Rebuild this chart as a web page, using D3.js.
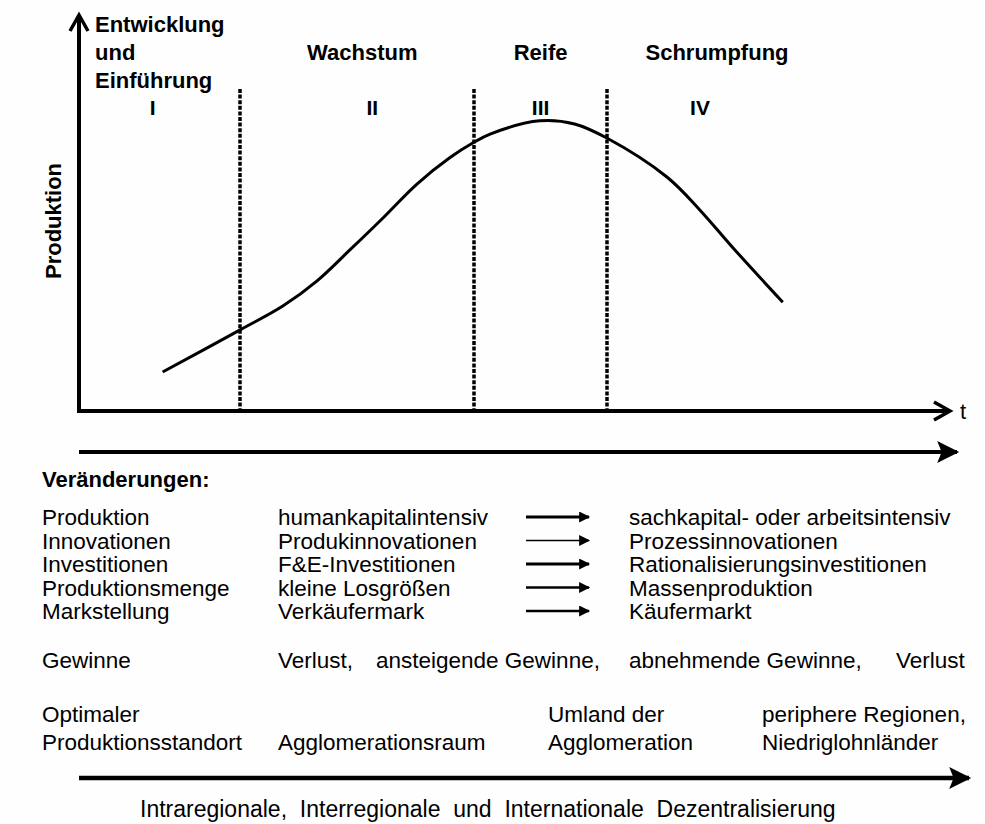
<!DOCTYPE html>
<meta charset="utf-8">
<style>
    body { margin: 0; background: #fff; }
    svg { font-family: "Liberation Sans", Arial, sans-serif; }
    .bold { font-weight: bold; }
</style>
<body>
<script src="https://d3js.org/d3.v7.min.js"></script>
<script>
    // phases of the product life cycle
    const phaseNames = [["Entwicklung", "und", "Einführung"], ["Wachstum"], ["Reife"], ["Schrumpfung"]];
    const phaseNumerals = ["I", "II", "III", "IV"];
    const phaseBounds = [0, 18.5, 45.4, 60.6, 82];

    // production curve (time t, production)
    const curveT    = [9.6, 18.5, 23.4, 27.3, 31.1, 34.9, 38.8, 42.6, 45.2, 47.2, 52.9, 56.9, 60.6, 67.5, 71.3, 75.1, 80.8];
    const curveProd = [10.0, 20.8, 26.9, 33.3, 41.3, 49.5, 58.2, 65.0, 68.7, 71.0, 74.4, 73.6, 70.0, 60.0, 51.5, 41.8, 27.9];

    // table of changes
    const changeLabels = ["Produktion", "Innovationen", "Investitionen", "Produktionsmenge", "Markstellung"];
    const changeFrom = ["humankapitalintensiv", "Produkinnovationen", "F&E-Investitionen", "kleine Losgrößen", "Verkäufermark"];
    const changeTo = ["sachkapital- oder arbeitsintensiv", "Prozessinnovationen", "Rationalisierungsinvestitionen", "Massenproduktion", "Käufermarkt"];
    const profitLabel = "Gewinne";
    const profitSteps = ["Verlust,", "ansteigende Gewinne,", "abnehmende Gewinne,", "Verlust"];

    const locationLabel = ["Optimaler", "Produktionsstandort"];
    const locations = [["", "Agglomerationsraum"], ["Umland der", "Agglomeration"], ["periphere Regionen,", "Niedriglohnländer"]];
    const bottomCaption = "Intraregionale,  Interregionale  und  Internationale  Dezentralisierung";

    const width = 985, height = 824;

    const svg = d3.select("body").append("svg")
        .attr("width", width)
        .attr("height", height);

    svg.append("rect").attr("width", width).attr("height", height).attr("fill", "#fefefe");

    const defs = svg.append("defs");
    defs.append("marker")
        .attr("id", "head")
        .attr("viewBox", "0 0 10 10")
        .attr("refX", 9).attr("refY", 5)
        .attr("markerUnits", "userSpaceOnUse")
        .attr("markerWidth", 13).attr("markerHeight", 11)
        .attr("orient", "auto")
        .append("path").attr("d", "M0,0L10,5L0,10z").attr("fill", "#000");
    defs.append("marker")
        .attr("id", "bighead")
        .attr("viewBox", "0 0 10 10")
        .attr("refX", 9).attr("refY", 5)
        .attr("markerUnits", "userSpaceOnUse")
        .attr("markerWidth", 28).attr("markerHeight", 22)
        .attr("orient", "auto")
        .append("path").attr("d", "M0,0L10,5L0,10L2,5z").attr("fill", "#000");

    const x = d3.scaleLinear().domain([0, 100]).range([79, 950]);
    const y = d3.scaleLinear().domain([0, 100]).range([411, 21]);

    // axes
    const axisG = svg.append("g").attr("stroke", "#000").attr("fill", "none")
        .attr("stroke-width", 4);
    axisG.append("line").attr("x1", x(0)).attr("y1", y(0) + 2).attr("x2", x(0)).attr("y2", 16);
    axisG.append("path").attr("d", `M${x(0) - 9},31L${x(0)},15L${x(0) + 9},31`).attr("stroke-width", 3.5);
    axisG.append("line").attr("x1", x(0) - 2).attr("y1", y(0)).attr("x2", x(100)).attr("y2", y(0));
    axisG.append("path").attr("d", `M${x(100) - 16},${y(0) - 9}L${x(100)},${y(0)}L${x(100) - 16},${y(0) + 9}`).attr("stroke-width", 3.5);

    svg.append("text")
        .attr("x", x(100) + 10).attr("y", y(0) + 8)
        .attr("font-size", 22)
        .text("t");

    svg.append("text")
        .attr("class", "bold")
        .attr("transform", `translate(61,${(y(0) + 31) / 2}) rotate(-90)`)
        .attr("text-anchor", "middle")
        .attr("font-size", 22)
        .text("Produktion");

    // phase boundaries
    svg.append("g").selectAll("line")
        .data(phaseBounds.slice(1, 4))
        .join("line")
        .attr("x1", d => Math.round(x(d))).attr("x2", d => Math.round(x(d)))
        .attr("y1", 89).attr("y2", y(0) - 2)
        .attr("stroke", "#000")
        .attr("stroke-width", 3.5)
        .attr("stroke-dasharray", "4,1.6");

    // phase names
    const nameX = x(0) + 16;
    const nameShift = [0, 5, 0, 17];
    const phaseText = svg.append("g").attr("class", "bold").attr("font-size", 22);
    phaseNames.forEach((lines, i) => {
        const mid = (x(phaseBounds[i]) + x(phaseBounds[i + 1])) / 2 + nameShift[i];
        const px = i === 0 ? nameX : mid;
        const t = phaseText.append("text")
            .attr("x", px)
            .attr("y", i === 0 ? 32 : 60)
            .attr("text-anchor", i === 0 ? "start" : "middle");
        lines.forEach((l, j) => {
            t.append("tspan")
                .attr("x", px)
                .attr("dy", j === 0 ? 0 : 28)
                .text(l);
        });
    });

    const numShift = [-7, 15, 0, 0];
    phaseText.selectAll(".num")
        .data(phaseNumerals)
        .join("text")
        .attr("class", "num")
        .attr("font-size", 21)
        .attr("text-anchor", "middle")
        .attr("x", (d, i) => (x(phaseBounds[i]) + x(phaseBounds[i + 1])) / 2 + numShift[i])
        .attr("y", 115)
        .text(d => d);

    // production curve
    const curveData = curveT.map((t, i) => [t, curveProd[i]]);
    svg.append("path")
        .datum(curveData)
        .attr("fill", "none")
        .attr("stroke", "#000")
        .attr("stroke-width", 3)
        .attr("d", d3.line().x(d => x(d[0])).y(d => y(d[1])).curve(d3.curveCatmullRom.alpha(0.5)));

    // time arrow
    svg.append("line")
        .attr("x1", x(0)).attr("x2", 957).attr("y1", 452).attr("y2", 452)
        .attr("stroke", "#000").attr("stroke-width", 4)
        .attr("marker-end", "url(#bighead)");

    // table of changes
    const tbl = svg.append("g").attr("font-size", 22.5).attr("fill", "#000");
    tbl.append("text").attr("class", "bold").attr("font-size", 22).attr("x", 42).attr("y", 487).text("Veränderungen:");

    const rowY = d3.scalePoint()
        .domain(changeLabels)
        .range([525, 619]);

    const arrowW = [3, 1.6, 3, 2.3, 2.3];
    changeLabels.forEach((lab, i) => {
        const yy = rowY(lab);
        tbl.append("text").attr("x", 42).attr("y", yy).text(lab);
        tbl.append("text").attr("x", 278).attr("y", yy).text(changeFrom[i]);
        tbl.append("text").attr("x", 629).attr("y", yy).text(changeTo[i]);
        tbl.append("line")
            .attr("x1", 526).attr("x2", 589)
            .attr("y1", yy - 8).attr("y2", yy - 8)
            .attr("stroke", "#000").attr("stroke-width", arrowW[i])
            .attr("marker-end", "url(#head)");
    });

    const profitY = 668;
    const profitX = [278, 376, 629, 896];
    tbl.append("text").attr("x", 42).attr("y", profitY).text(profitLabel);
    profitSteps.forEach((s, i) => {
        tbl.append("text").attr("x", profitX[i]).attr("y", profitY).text(s);
    });

    // production location
    const locY = [722, 750];
    locationLabel.forEach((l, j) => tbl.append("text").attr("x", 42).attr("y", locY[j]).text(l));
    const locX = [278, 548, 762];
    locations.forEach((pair, i) => {
        pair.forEach((l, j) => {
            if (l) tbl.append("text").attr("x", locX[i]).attr("y", locY[j]).text(l);
        });
    });

    svg.append("line")
        .attr("x1", x(0)).attr("x2", 969).attr("y1", 778).attr("y2", 778)
        .attr("stroke", "#000").attr("stroke-width", 4.5)
        .attr("marker-end", "url(#bighead)");

    svg.append("text")
        .attr("x", 140).attr("y", 817)
        .attr("font-size", 23)
        .style("white-space", "pre")
        .text(bottomCaption);
</script>
</body>
</html>
